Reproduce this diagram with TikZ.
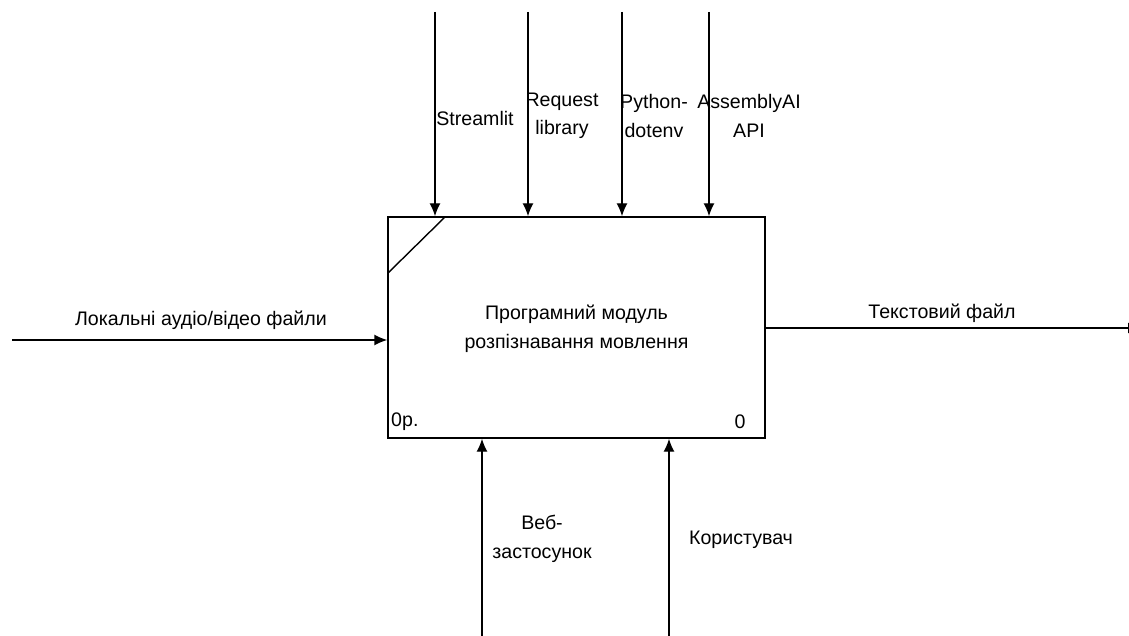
\documentclass[tikz,border=0pt]{standalone}
\usepackage{fontspec}
\setmainfont{Liberation Sans}
\usetikzlibrary{arrows.meta}
\begin{document}
\begin{tikzpicture}[x=1pt,y=-1pt,
  arr/.style={line width=1.4pt,-{Latex[length=13pt,width=11pt]}},
  lbl/.style={font=\fontsize{19.6}{28.5}\selectfont,align=center,inner sep=0pt},
  box/.style={draw,line width=1.4pt,minimum width=377pt,minimum height=221pt,inner sep=0pt}]
\useasboundingbox (0,0) rectangle (1129,636);
\node[box] (mod) at (576.5,327.5) {};
\node[lbl] (modtxt) at (576.5,329) {Програмний модуль\\розпізнавання мовлення};
\node[lbl,anchor=west] (code) at (391,422) {0р.};
\node[lbl] (num) at (740,422) {0};
\coordinate (dA) at (388,273);
\coordinate (dB) at (445,217);
\draw[line width=1.4pt] (dA) -- (dB);
% controls
\coordinate (t1) at (435,12);
\coordinate (t2) at (528,12);
\coordinate (t3) at (622,12);
\coordinate (t4) at (709,12);
\foreach \c in {t1,t2,t3,t4} \draw[arr] (\c) -- (\c |- mod.north);
\node[lbl] (s1) at (475,118) {Streamlit};
\node[lbl] (s2) at (562,116) {Request\\library};
\node[lbl] (s3) at (654,116) {Python-\\dotenv};
\node[lbl] (s4) at (749,116) {AssemblyAI\\API};
% input
\coordinate (in) at (12,340);
\draw[arr] (in) -- (in -| mod.west);
\node[lbl] (inl) at (201,320) {Локальні аудіо/відео файли};
% output
\coordinate (out) at (1141,328);
\draw[arr] (out -| mod.east) -- (out);
\node[lbl] (outl) at (942,313) {Текстовий файл};
% mechanisms
\coordinate (b1) at (482,636);
\coordinate (b2) at (669,636);
\draw[arr] (b1) -- (b1 |- mod.south);
\draw[arr] (b2) -- (b2 |- mod.south);
\node[lbl] (m1) at (542,539) {Веб-\\застосунок};
\node[lbl] (m2) at (741,540) {Користувач};
\end{tikzpicture}
\end{document}
